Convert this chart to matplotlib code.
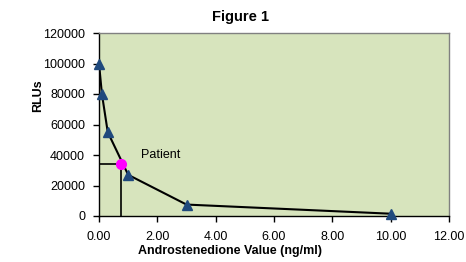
import matplotlib
matplotlib.use("Agg")
import matplotlib.pyplot as plt

conc = [0.0, 0.1, 0.3, 1.0, 3.0, 10.0]
rlu = [100000, 80000, 55000, 27000, 7500, 1500]
patient_x = 0.75
patient_y = 34000
xticks = [0, 2, 4, 6, 8, 10, 12]
yticks = [0, 20000, 40000, 60000, 80000, 100000, 120000]

plt.rcParams['font.family'] = ['Liberation Sans', 'DejaVu Sans']
fig = plt.figure(figsize=(4.66, 2.62), dpi=100)
ax = fig.add_axes([99/466, 46/262, 350/466, 183/262])
ax.set_facecolor('#d7e4bd')
ax.plot(conc, rlu, color='black', lw=1.5, zorder=2)
ax.plot(conc, rlu, linestyle='none', marker='^', ms=7, color='#1f497d', zorder=4, clip_on=False)
ax.plot([0, patient_x], [patient_y, patient_y], color='black', lw=1.2, zorder=3)
ax.plot([patient_x, patient_x], [0, patient_y], color='black', lw=1.2, zorder=3)
ax.plot([patient_x], [patient_y], marker='o', ms=7, color='#ff00ff', linestyle='none', zorder=5)
ax.text(1.45, 40000, 'Patient', fontsize=9, va='center', ha='left')
ax.set_xlim(0, 12)
ax.set_ylim(0, 120000)
ax.set_xticks(xticks)
ax.set_xticklabels([f'{v:.2f}' for v in xticks], fontsize=9)
ax.set_yticks(yticks)
ax.set_yticklabels([str(v) for v in yticks], fontsize=9)
ax.tick_params(axis='y', direction='out', length=4, width=1, pad=6)
ax.tick_params(axis='x', direction='out', length=4, width=1, pad=7)
for s in ['top', 'right']:
    ax.spines[s].set_color('#808080')
    ax.spines[s].set_linewidth(1)
for s in ['left', 'bottom']:
    ax.spines[s].set_color('black')
    ax.spines[s].set_linewidth(1)
fig.text(230/466, 1 - 251/262, 'Androstenedione Value (ng/ml)', fontsize=9, fontweight='bold',
         ha='center', va='center')
fig.text(38/466, 1 - 96/262, 'RLUs', fontsize=9, fontweight='bold', rotation=90,
         ha='center', va='center')
fig.text(241/466, 1 - 17/262, 'Figure 1', fontsize=10.5, fontweight='bold', ha='center', va='center')
fig.savefig('out.png', dpi=100)
